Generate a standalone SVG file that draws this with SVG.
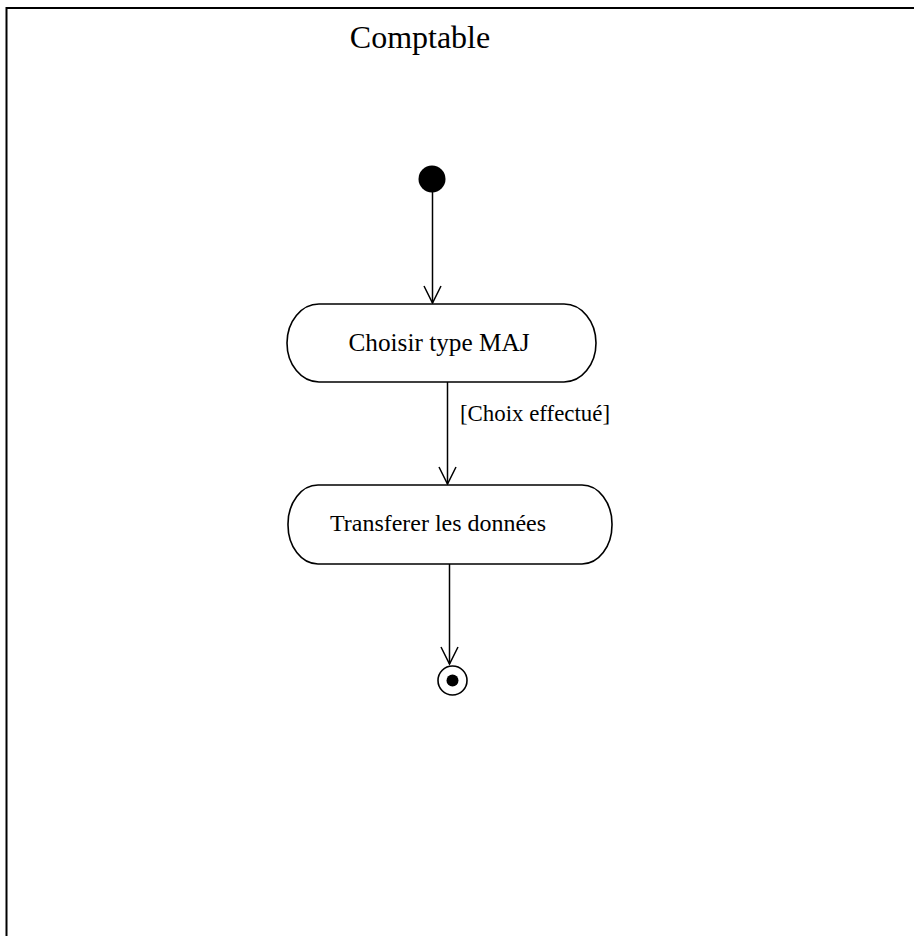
<svg xmlns="http://www.w3.org/2000/svg" width="914" height="936" viewBox="0 0 914 936">
<defs>
<style>
.frame{stroke:#000;stroke-width:2;fill:none}
.act{fill:#fff;stroke:#000;stroke-width:1.6}
.edge{stroke:#000;stroke-width:1.5;fill:none;marker-end:url(#arr)}
.t{font-family:"Liberation Serif","Times New Roman",serif;fill:#000}
</style>
<marker id="arr" viewBox="0 0 20 20" refX="18" refY="10" markerWidth="20" markerHeight="20" markerUnits="userSpaceOnUse" orient="auto">
<path d="M1,1.5 L18,10 L1,18.5" fill="none" stroke="#000" stroke-width="1.5"/>
</marker>
</defs>
<rect width="914" height="936" fill="#fff"/>
<g id="swimlane">
<path class="frame" d="M6.5,936 L6.5,8 L914,8"/>
<text class="t" x="420" y="48" font-size="32" text-anchor="middle">Comptable</text>
</g>
<g id="connectors">
<path class="edge" d="M432.5,192 L432.5,303"/>
<path class="edge" d="M447.5,382 L447.5,484"/>
<text class="t" x="460" y="421" font-size="22.5" textLength="150" lengthAdjust="spacingAndGlyphs">[Choix effectué]</text>
<path class="edge" d="M449.5,564 L449.5,664"/>
</g>
<g id="start">
<circle cx="432" cy="179" r="13.5" fill="#000"/>
</g>
<g id="choisir">
<rect class="act" x="287" y="304" width="309" height="78" rx="32" ry="39"/>
<text class="t" x="439" y="351" font-size="25" text-anchor="middle" textLength="181" lengthAdjust="spacingAndGlyphs">Choisir type MAJ</text>
</g>
<g id="transferer">
<rect class="act" x="288" y="485" width="324" height="79" rx="30" ry="39"/>
<text class="t" x="438" y="531" font-size="24" text-anchor="middle" textLength="216" lengthAdjust="spacingAndGlyphs">Transferer les données</text>
</g>
<g id="end">
<circle cx="452.5" cy="680.5" r="14.5" fill="#fff" stroke="#000" stroke-width="1.6"/>
<circle cx="452.5" cy="680.5" r="6" fill="#000"/>
</g>
</svg>
